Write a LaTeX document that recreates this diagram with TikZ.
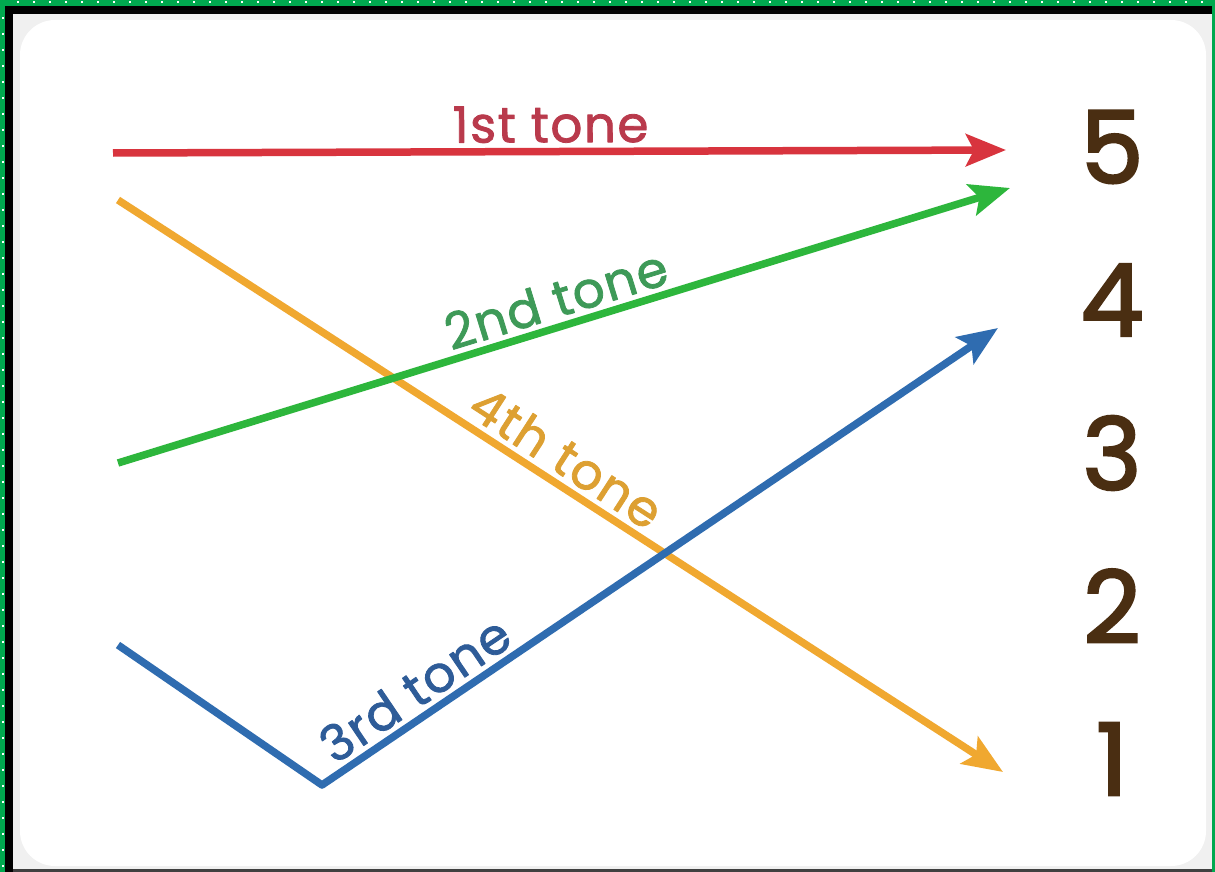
\documentclass[tikz,border=0pt]{standalone}
\usepackage{fontspec}
\setmainfont{Poppins}
\newfontfamily\tonefont{Poppins}[FakeBold=1.6, LetterSpace=3]
\newfontfamily\levelfont{Poppins}[FakeBold=2.5]
\usepackage{tikz}
\usetikzlibrary{
    arrows.meta,
    positioning
}
\definecolor{framegreen}{HTML}{00A94F}
\definecolor{levelbrown}{HTML}{4A2E12}
\definecolor{redline}{HTML}{D8343E}
\definecolor{redtext}{HTML}{B93A4C}
\definecolor{greenline}{HTML}{2DB63C}
\definecolor{greentext}{HTML}{3E9A58}
\definecolor{orangeline}{HTML}{F0A830}
\definecolor{orangetext}{HTML}{DDA032}
\definecolor{blueline}{HTML}{2F6CB0}
\definecolor{bluetext}{HTML}{2E5C98}
\tikzstyle{tone} = [
    line width=7.5pt,
    line join=round,
    -{Stealth[length=40pt,width=32pt,inset=8pt]}
]
\tikzstyle{tonelabel} = [
    font=\tonefont\fontsize{50}{54}\selectfont,
    sloped,
    above=3pt,
    inner sep=2pt
]
\tikzstyle{level} = [
    font=\levelfont\fontsize{100}{100}\selectfont,
    text=levelbrown,
    inner sep=0pt
]

\begin{document}
\begin{tikzpicture}[x=1pt, y=-1pt]
        % Frame
        \useasboundingbox (0,0) rectangle (1215,872);
        \fill[framegreen] (0,0) rectangle (1215,872);
        \fill[black] (5,6) rectangle (1212,872);
        \fill[gray!12] (13,14) rectangle (1212,869);
        \fill[white, rounded corners=35pt] (20,20) rectangle (1206,866);
        \fill[black!75] (13,869) rectangle (1212,872);
        \foreach \x in {18,34,...,1210} \fill[white] (\x-1,1.5) rectangle (\x+1,3.5);
        \foreach \y in {18,34,...,870} {
            \fill[white] (1.5,\y-1) rectangle (3.5,\y+1);
        }

        % Pitch levels
        \node[level] (n5) at (1112,147) {5};
        \node[level] (n4) at (1112,300) {4};
        \node[level] (n3) at (1112,453) {3};
        \node[level] (n2) at (1112,606) {2};
        \node[level] (n1) at (1112,759) {1};

        % Line ends
        \coordinate (s1) at (113,153);
        \coordinate (e1) at (1006,150);
        \coordinate (s2) at (118,463);
        \coordinate (e2) at (1010,188);
        \coordinate (s3) at (118,645);
        \coordinate (b3) at (322,785);
        \coordinate (e3) at (998,328);
        \coordinate (s4) at (118,200);
        \coordinate (e4) at (1003,772);

        % Tones
        \draw[tone, orangeline] (s4) -- node[tonelabel, pos=0.49, text=orangetext] {4th tone} (e4);
        \draw[tone, greenline] (s2) -- node[tonelabel, pos=0.5, text=greentext] {2nd tone} (e2);
        \draw[tone, blueline] (s3) -- (b3) -- node[tonelabel, pos=0.16, text=bluetext] {3rd tone} (e3);
        \draw[tone, redline] (s1) -- node[tonelabel, pos=0.49, text=redtext] {1st tone} (e1);
    \end{tikzpicture}
\end{document}
